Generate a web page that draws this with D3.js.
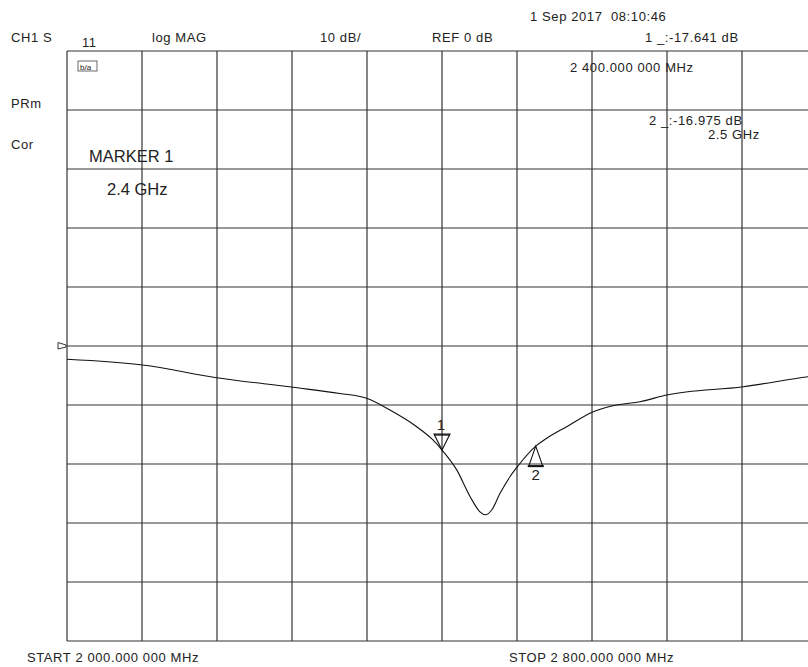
<!DOCTYPE html>
<html><head><meta charset="utf-8">
<script src="https://cdn.jsdelivr.net/npm/d3@7"></script>
<style>
html,body{margin:0;padding:0;background:#fff;}
svg text{font-family:"Liberation Sans",Arial,sans-serif;fill:#222;}
</style></head>
<body>
<svg id="c" width="808" height="667"></svg>
<script>
// Data (frequency in MHz, magnitude in dB)
const freqs = [2000, 2080.7, 2159.7, 2241, 2291, 2319.7, 2344.5, 2373, 2390.4, 2400, 2415.7, 2429.9, 2440.5, 2446.6, 2453, 2461.9, 2472.5, 2481, 2500, 2511.7, 2533, 2561.4, 2586.3, 2611.2, 2639.7, 2721.4, 2790.4, 2800];
const mags  = [-2.25, -3.22, -5.37, -7.0, -8.05, -8.86, -10.85, -13.68, -15.93, -17.641, -21.0, -25.5, -28.1, -28.6, -27.8, -24.97, -22.15, -20.34, -16.975, -15.64, -13.68, -11.14, -10.0, -9.44, -8.3, -6.9, -5.2, -5.0];
const markerFreqs = [2400, 2500];
const markerMags = [-17.641, -16.975];
const markerNames = ["1", "2"];
const xDomain = [2000, 2800];
const yDomain = [-50, 50];   // REF 0 dB at centre, 10 dB/div
const xTicks = [2000, 2080, 2160, 2240, 2320, 2400, 2480, 2560, 2640, 2720, 2800];
const yTicks = [50, 40, 30, 20, 10, 0, -10, -20, -30, -40, -50];

const svg = d3.select("#c");
const x = d3.scaleLinear().domain(xDomain).range([67, 817]);
const y = d3.scaleLinear().domain(yDomain).range([641, 51]);

const grid = svg.append("g").attr("stroke", "#333").attr("stroke-width", 1.2);
grid.selectAll("line.v").data(xTicks).join("line")
  .attr("x1", d => x(d)).attr("x2", d => x(d))
  .attr("y1", y(yDomain[1])).attr("y2", y(yDomain[0]));
grid.selectAll("line.h").data(yTicks).join("line")
  .attr("x1", x(xDomain[0])).attr("x2", x(xDomain[1]))
  .attr("y1", d => y(d)).attr("y2", d => y(d));

// reference position marker
const ry = y(0);
svg.append("path").attr("d", `M58,${ry-3.5}L66,${ry-1}L66,${ry+1}L58,${ry+3}Z`)
  .attr("fill", "none").attr("stroke", "#333").attr("stroke-width", 1);

// trace
const line = d3.line().x((d, i) => x(freqs[i])).y(d => y(d)).curve(d3.curveMonotoneX);
svg.append("path").datum(mags).attr("d", line)
  .attr("fill", "none").attr("stroke", "#111").attr("stroke-width", 1.1);

// markers
markerFreqs.forEach((f, i) => {
  const px = x(f), py = y(markerMags[i]);
  const g = svg.append("g").attr("fill", "none").attr("stroke", "#111").attr("stroke-width", 1.1);
  if (i === 0) {
    g.append("path").attr("d", `M${px},${py}L${px-8},${py-16}L${px+8},${py-16}Z`);
    g.append("path").attr("d", `M${px-8},${py-15}L${px+8},${py-15}`);
    svg.append("text").attr("x", px - 1).attr("y", py - 20).attr("text-anchor", "middle")
      .attr("font-size", 15).text(markerNames[i]);
  } else {
    g.append("path").attr("d", `M${px},${py}L${px-7},${py+20}L${px+7},${py+20}Z`);
    g.append("path").attr("d", `M${px-8},${py+20}L${px+8},${py+20}`).attr("stroke-width", 2);
    svg.append("text").attr("x", px).attr("y", py + 34).attr("text-anchor", "middle")
      .attr("font-size", 15).text(markerNames[i]);
  }
});

// icon
svg.append("rect").attr("x", 78).attr("y", 61).attr("width", 19).attr("height", 10)
  .attr("fill", "none").attr("stroke", "#444").attr("stroke-width", 0.8);
svg.append("text").attr("x", 80).attr("y", 69.5).attr("font-size", 8).text("b/a");

// texts
const small = [
  ["CH1 S", 11, 42], ["11", 82, 47], ["log MAG", 152, 42], ["10 dB/", 320, 42],
  ["REF 0 dB", 432, 42], ["1 Sep 2017  08:10:46", 530, 21], ["1 _:-17.641 dB", 645, 42],
  ["2 400.000 000 MHz", 570, 72], ["PRm", 11, 108], ["Cor", 11, 149],
  ["2 _:-16.975 dB", 649, 125], ["2.5 GHz", 708, 139],
  ["START 2 000.000 000 MHz", 27, 662], ["STOP 2 800.000 000 MHz", 509, 662]
];
small.forEach(t => {
  svg.append("text").attr("x", t[1]).attr("y", t[2]).attr("font-size", 13)
    .attr("letter-spacing", "0.6px").style("white-space", "pre").text(t[0]);
});
svg.append("text").attr("x", 89).attr("y", 162).attr("font-size", 16.5).text("MARKER 1");
svg.append("text").attr("x", 107).attr("y", 195).attr("font-size", 16.5).text("2.4 GHz");
</script>
</body></html>
